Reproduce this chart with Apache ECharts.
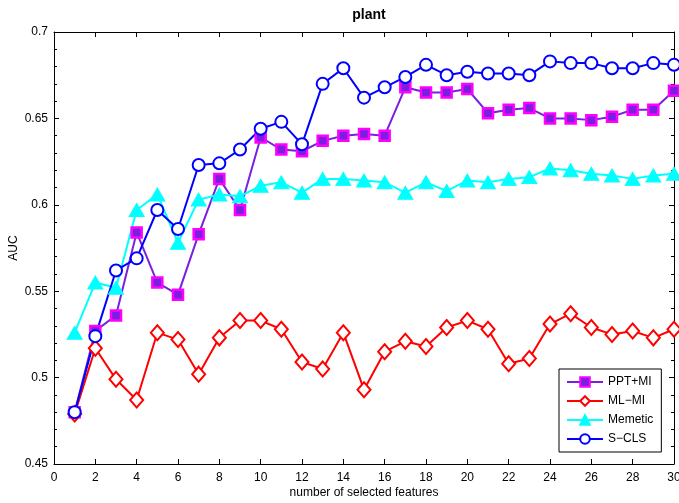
<!DOCTYPE html>
<html>
<head>
<meta charset="utf-8">
<title>plant</title>
<script src="https://cdn.jsdelivr.net/npm/echarts@6/dist/echarts.min.js"></script>
<style>
    html, body { margin: 0; padding: 0; background: #fff; }
    #chart { width: 679px; height: 503px; }
</style>
</head>
<body>
<div id="chart"></div>
<script>
    // number of selected features
    var features = [1, 2, 3, 4, 5, 6, 7, 8, 9, 10, 11, 12, 13, 14, 15,
        16, 17, 18, 19, 20, 21, 22, 23, 24, 25, 26, 27, 28, 29, 30];

    var pptMi = [0.480, 0.527, 0.536, 0.584, 0.555, 0.548, 0.583, 0.615, 0.597, 0.639,
        0.632, 0.631, 0.637, 0.640, 0.641, 0.640, 0.668, 0.665, 0.665, 0.667,
        0.653, 0.655, 0.656, 0.650, 0.650, 0.649, 0.651, 0.655, 0.655, 0.666];
    var mlMi = [0.479, 0.517, 0.499, 0.487, 0.526, 0.522, 0.502, 0.523, 0.533, 0.533,
        0.528, 0.509, 0.505, 0.526, 0.493, 0.515, 0.521, 0.518, 0.529, 0.533,
        0.528, 0.508, 0.511, 0.531, 0.537, 0.529, 0.525, 0.527, 0.523, 0.528];
    var memetic = [0.526, 0.555, 0.552, 0.597, 0.606, 0.578, 0.603, 0.606, 0.605, 0.611,
        0.613, 0.607, 0.615, 0.615, 0.614, 0.613, 0.607, 0.613, 0.608, 0.614,
        0.613, 0.615, 0.616, 0.621, 0.620, 0.618, 0.617, 0.615, 0.617, 0.618];
    var sCls = [0.480, 0.524, 0.562, 0.569, 0.597, 0.586, 0.623, 0.624, 0.632, 0.644,
        0.648, 0.635, 0.670, 0.679, 0.662, 0.668, 0.674, 0.681, 0.675, 0.677,
        0.676, 0.676, 0.675, 0.683, 0.682, 0.682, 0.679, 0.679, 0.682, 0.681];

    var xTicks = { min: 0, max: 30, interval: 2 };
    var yTicks = { min: 0.45, max: 0.7, interval: 0.05 };

    var font = 'Liberation Sans, Arial, sans-serif';

    var pairs = function (ys) {
        return features.map(function (x, i) { return [x, ys[i]]; });
    };

    var baseX = function (pos, labels) {
        return {
            type: 'value', position: pos, min: xTicks.min, max: xTicks.max, interval: xTicks.interval,
            axisLine: { show: true, onZero: false, lineStyle: { color: '#000', width: 1 } },
            axisTick: { show: true, inside: true, length: 5, lineStyle: { color: '#000' } },
            axisLabel: { show: labels, color: '#000', fontFamily: font, fontSize: 12, margin: 8 },
            splitLine: { show: false }
        };
    };
    var baseY = function (pos, labels) {
        return {
            type: 'value', position: pos, min: yTicks.min, max: yTicks.max, interval: yTicks.interval,
            axisLine: { show: true, onZero: false, lineStyle: { color: '#000', width: 1 } },
            axisTick: { show: true, inside: true, length: 5, lineStyle: { color: '#000' } },
            minorTick: { show: true, splitNumber: 5, length: 3, lineStyle: { color: '#000' } },
            axisLabel: {
                show: labels, color: '#000', fontFamily: font, fontSize: 12, margin: 6,
                formatter: function (v) { return String(Math.round(v * 100) / 100); }
            },
            splitLine: { show: false }
        };
    };

    var xBottom = baseX('bottom', true);
    xBottom.name = 'number of selected features';
    xBottom.nameLocation = 'middle';
    xBottom.nameGap = 23;
    xBottom.nameMoveOverlap = false;
    xBottom.nameTextStyle = { color: '#000', fontFamily: font, fontSize: 12 };

    var yLeft = baseY('left', true);
    yLeft.name = 'AUC';
    yLeft.nameLocation = 'middle';
    yLeft.nameGap = 34;
    yLeft.nameMoveOverlap = false;
    yLeft.nameTextStyle = { color: '#000', fontFamily: font, fontSize: 12 };

    var lineSeries = function (name, data, color, symbol, size, item) {
        return {
            name: name, type: 'line', data: pairs(data),
            xAxisIndex: 0, yAxisIndex: 0,
            symbol: symbol, symbolSize: size, showAllSymbol: true,
            lineStyle: { color: color, width: 2 },
            itemStyle: item,
            emphasis: { disabled: true },
            animation: false
        };
    };

    var myChart = echarts.init(document.getElementById('chart'));
    var option = {
        backgroundColor: '#fff',
        animation: false,
        title: {
            text: 'plant', left: 364, top: 3, textAlign: 'center',
            textStyle: { fontFamily: font, fontSize: 14, fontWeight: 'bold', color: '#000' }
        },
        grid: { left: 54, right: 5, top: 32, bottom: 39, containLabel: false, outerBoundsMode: 'none' },
        legend: {
            orient: 'vertical', left: 559, top: 369,
            itemWidth: 36, itemHeight: 12, itemGap: 7,
            padding: [7, 8, 7, 7],
            borderColor: '#000', borderWidth: 1, backgroundColor: '#fff',
            textStyle: { fontFamily: font, fontSize: 12, color: '#000' },
            data: ['PPT+MI', 'ML\u2212MI', 'Memetic', 'S\u2212CLS']
        },
        xAxis: [xBottom, baseX('top', false)],
        yAxis: [yLeft, baseY('right', false)],
        series: [
            lineSeries('PPT+MI', pptMi, '#7a1fe0', 'rect', 10,
                { color: '#7a1fe0', borderColor: '#ff00ff', borderWidth: 2.5 }),
            lineSeries('ML\u2212MI', mlMi, '#ff0000', 'diamond', [13, 15],
                { color: '#fff', borderColor: '#ff0000', borderWidth: 2 }),
            lineSeries('Memetic', memetic, '#00ffff', 'triangle', [15, 13],
                { color: '#00ffff', borderColor: '#00ffff', borderWidth: 1 }),
            lineSeries('S\u2212CLS', sCls, '#0000ff', 'circle', 12,
                { color: '#fff', borderColor: '#0000ff', borderWidth: 2 })
        ]
    };
    myChart.setOption(option);
</script>
</body>
</html>
